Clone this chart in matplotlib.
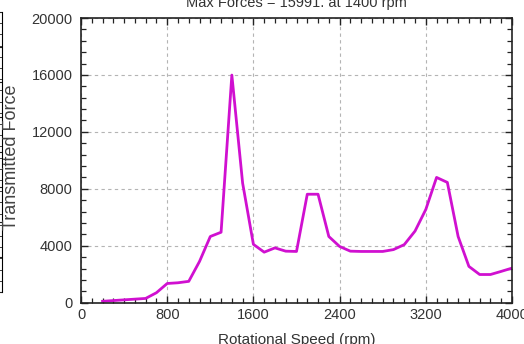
import numpy as np
import matplotlib.pyplot as plt
from matplotlib.ticker import MultipleLocator

plt.rcParams["font.family"] = ["Liberation Sans", "DejaVu Sans"]

# --- Data ---
speed_rpm = [200, 300, 400, 500, 600, 700, 800, 900, 1000, 1100,
             1200, 1300, 1400, 1500, 1600, 1700, 1800, 1900, 2000, 2100,
             2200, 2300, 2400, 2500, 2600, 2700, 2800, 2900, 3000, 3100,
             3200, 3300, 3400, 3500, 3600, 3700, 3800, 3900, 4000]
force = [100, 150, 200, 250, 300, 700, 1350, 1400, 1500, 2900,
         4650, 4950, 15991, 8400, 4100, 3550, 3850, 3620, 3600, 7620,
         7620, 4650, 3950, 3620, 3600, 3600, 3600, 3730, 4080, 5030,
         6550, 8800, 8450, 4650, 2550, 1980, 1980, 2200, 2430]

title = "Max Forces = 15991. at 1400 rpm"
xlabel = "Rotational Speed (rpm)"
ylabel = "Transmitted Force"

# --- Figure ---
fig = plt.figure(figsize=(5.24, 3.44), dpi=100)
ax = fig.add_axes([81 / 524, 1 - 302.7 / 344, 431 / 524, (302.7 - 18) / 344])

ax.plot(speed_rpm, force, color="#d010d0", lw=2.0, solid_joinstyle="round")

ax.set_xlim(0, 4000)
ax.set_ylim(0, 20000)
ax.xaxis.set_major_locator(MultipleLocator(800))
ax.xaxis.set_minor_locator(MultipleLocator(100))
ax.yaxis.set_major_locator(MultipleLocator(4000))
ax.yaxis.set_minor_locator(MultipleLocator(800))

ax.tick_params(which="both", direction="in", top=True, right=True,
               colors="#222222", labelcolor="#333333", labelsize=10.5)
ax.tick_params(which="major", length=5, width=1)
ax.tick_params(which="minor", length=3.5, width=0.9)
ax.tick_params(axis="y", pad=6)
ax.tick_params(axis="x", pad=4)

ax.grid(True, which="major", linestyle=(0, (3, 3)), color="#b4b4b4", lw=0.8)
for s in ax.spines.values():
    s.set_color("#222222")
    s.set_linewidth(1.2)

# title and x-label sit right at the figure edge, as in the reference
fig.text(296.5 / 524, 1 - 3 / 344, title, ha="center", va="center",
         fontsize=10.5, color="#333333")
fig.text(296.5 / 524, 1 - 340 / 344, xlabel, ha="center", va="center",
         fontsize=11, color="#333333")
fig.text(12 / 524, 1 - 157 / 344, ylabel, ha="center", va="center",
         rotation=90, fontsize=13, color="#444444")

# edge of neighbouring chart on the far left
ax2 = fig.add_axes([-0.2, 1 - 292 / 344, 0.2 + 2 / 524, (292 - 12) / 344])
ax2.set_ylim(0, 20000)
ax2.yaxis.set_minor_locator(MultipleLocator(800))
ax2.yaxis.tick_right()
ax2.tick_params(which="both", direction="in", labelright=False, length=3,
                colors="#222222")
ax2.set_xticks([])
for k in ("left", "top", "bottom"):
    ax2.spines[k].set_visible(False)
ax2.patch.set_alpha(0)

fig.savefig("out.png", dpi=100)
